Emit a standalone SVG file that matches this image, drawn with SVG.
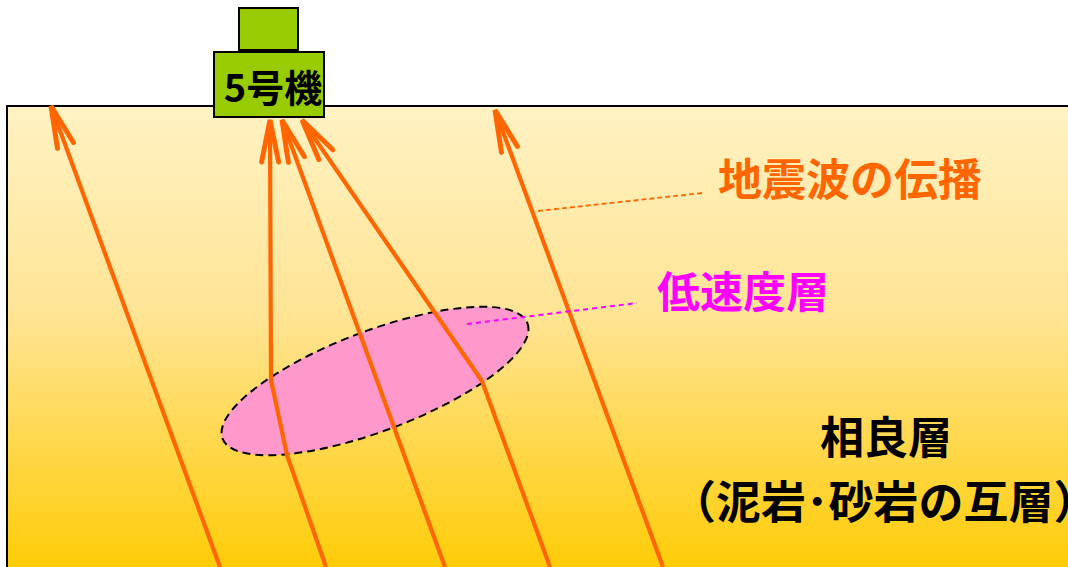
<svg xmlns="http://www.w3.org/2000/svg" width="1068" height="567" viewBox="0 0 1068 567">
  <defs>
    <linearGradient id="ground" x1="0" y1="106" x2="0" y2="567" gradientUnits="userSpaceOnUse">
      <stop offset="0" stop-color="#FFF2C3"/>
      <stop offset="0.45" stop-color="#FFE495"/>
      <stop offset="1" stop-color="#FFCC08"/>
    </linearGradient>
    <marker id="arrow" markerUnits="userSpaceOnUse" orient="auto" refX="0" refY="0" markerWidth="60" markerHeight="30" overflow="visible">
      <path d="M-42,-8.5 L0,0 L-42,8.5" fill="none" stroke="#FF6600" stroke-width="5" stroke-linejoin="miter" stroke-linecap="round"/>
    </marker>
    <style>
      .ray { fill: none; stroke: #FF6600; stroke-width: 4.2; stroke-linejoin: round; marker-end: url(#arrow); }
      .box { fill: #99CC00; stroke: #000; stroke-width: 2; }
      .jp { font-family: "Noto Sans CJK JP", "Noto Sans CJK SC", sans-serif; font-weight: bold; }
    </style>
  </defs>

  <!-- stratum -->
  <rect id="layer" x="7" y="106" width="1080" height="480" fill="url(#ground)" stroke="#000" stroke-width="2"/>

  <!-- low-velocity zone -->
  <g id="low-velocity-zone">
    <ellipse cx="375" cy="381" rx="163" ry="50" transform="rotate(-20.7 375 381)" fill="#FF99CC" stroke="#000" stroke-width="2" stroke-dasharray="8 5"/>
  </g>

  <!-- seismic rays -->
  <g id="connectors">
    <path class="ray" d="M220,567 L51,106"/>
    <path class="ray" d="M326,567 L287,455 L271,380 L270,120"/>
    <path class="ray" d="M445,567 L282,120"/>
    <path class="ray" d="M550,567 L482,381 L302,120"/>
    <path class="ray" d="M663,567 L495,110"/>
    <line x1="538" y1="211" x2="702" y2="193" stroke="#FF6600" stroke-width="1.8" stroke-dasharray="5 3"/>
    <line x1="467" y1="324" x2="637" y2="303" stroke="#FF00FF" stroke-width="2" stroke-dasharray="5 4"/>
  </g>

  <!-- seismometer unit 5 -->
  <g id="unit5">
    <rect class="box" x="239" y="8" width="59" height="42"/>
    <rect class="box" x="214" y="52" width="110" height="65"/>
    <text class="jp" x="273" y="102" font-size="38" text-anchor="middle" fill="#000">5号機</text>
  </g>

  <g id="label-wave">
    <text class="jp" x="718" y="196" font-size="44" fill="#FF6600">地震波の伝播</text>
  </g>
  <g id="label-lowvel">
    <text class="jp" x="657" y="308" font-size="43" fill="#FF00FF">低速度層</text>
  </g>
  <g id="label-sagara">
    <text class="jp" x="886" y="454" font-size="44" text-anchor="middle" fill="#000">相良層</text>
    <text class="jp" x="671" y="519" font-size="45" fill="#000">（泥岩･砂岩の互層）</text>
  </g>
</svg>
